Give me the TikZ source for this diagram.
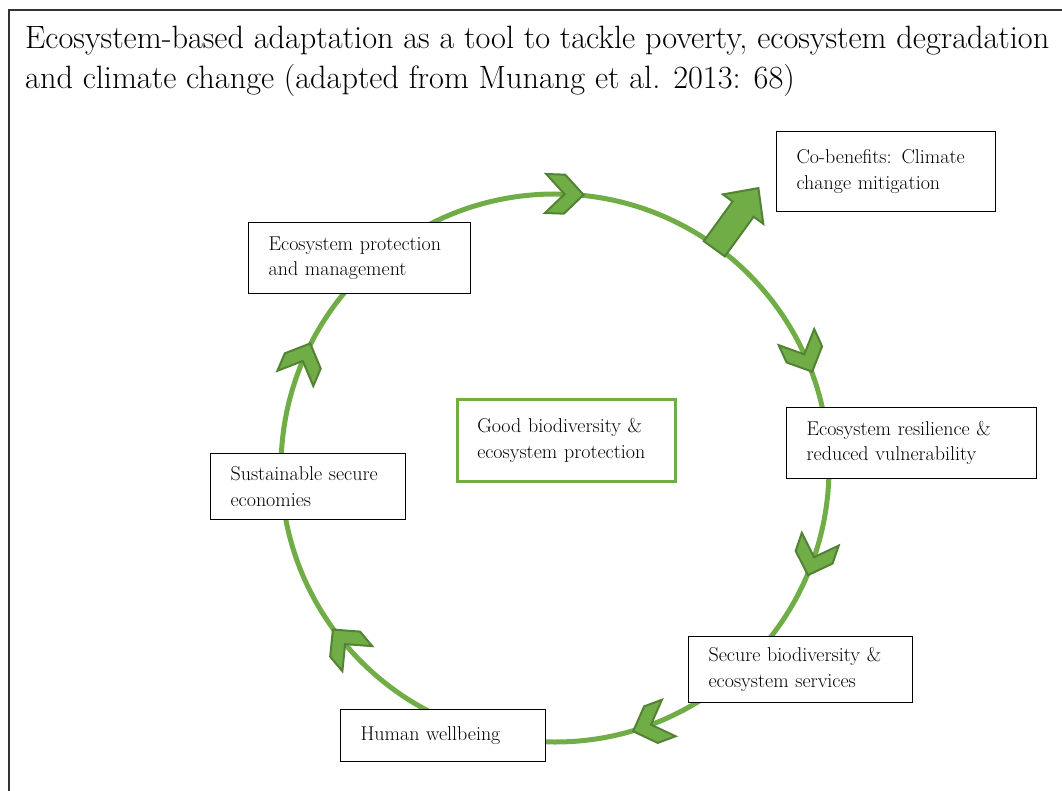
\documentclass[tikz,border=0pt]{standalone}
\usetikzlibrary{calc}
\definecolor{eggreen}{HTML}{70AD47}
\definecolor{egdark}{HTML}{548235}
\begin{document}
\begin{tikzpicture}[x=1pt,y=1pt,
  box/.style={draw=black, line width=1.2pt, fill=white, anchor=north west, align=left,
    inner xsep=20pt, inner ysep=0pt, font=\fontsize{20}{25.5}\selectfont},
  chev/.style={fill=eggreen, draw=egdark, line width=2pt, line join=miter},
  ring/.style={draw=eggreen, line width=5pt}]
\useasboundingbox (0,0) rectangle (1062,-791);
\draw[line width=1.5pt, black!80] (9,-791) -- (9,-10) -- (1062,-10);
\node[anchor=north west, align=left, font=\fontsize{32.3}{40}\selectfont, inner sep=0pt] (title) at (25,-26)
  {Ecosystem-based adaptation as a tool to tackle poverty, ecosystem degradation\\
   and climate change (adapted from Munang et al. 2013: 68)};
\coordinate (c) at (555,-468);
\draw[ring] (c) circle (274);
% chevrons (clockwise)
\foreach \a in {88,24.5,-19,-69.5,220,157}{
  \begin{scope}[shift={(c)},rotate=\a,shift={(274,0)},rotate=-90]
    \draw[chev] (-19,19.5) -- (0,19.5) -- (19,0) -- (0,-19.5) -- (-19,-19.5) -- (0,0) -- cycle;
  \end{scope}
}
% big outward arrow
\begin{scope}[shift={(c)},rotate=54]
  \draw[chev] (271,13) -- (320,13) -- (320,25) -- (346,0) -- (320,-25) -- (320,-13) -- (271,-13) -- cycle;
\end{scope}
% boxes
\node[box, minimum width=219pt, minimum height=80pt, text width=179pt] (cobenefits) at (776,-131)
  {Co-benefits: Climate\\ change mitigation};
\node[box, minimum width=222pt, minimum height=71pt, text width=182pt] (protection) at (248,-222)
  {Ecosystem protection\\ and management};
\node[box, draw=eggreen, line width=2.5pt, minimum width=218pt, minimum height=82pt, text width=178pt] (good) at (456,-398)
  {Good biodiversity \&\\ ecosystem protection};
\node[box, minimum width=250pt, minimum height=71pt, text width=210pt] (resilience) at (786,-407)
  {Ecosystem resilience \&\\ reduced vulnerability};
\node[box, minimum width=195pt, minimum height=66pt, text width=155pt] (economies) at (210,-453)
  {Sustainable secure\\ economies};
\node[box, minimum width=224pt, minimum height=66pt, text width=184pt] (services) at (688,-636)
  {Secure biodiversity \&\\ ecosystem services};
\node[box, minimum width=205pt, minimum height=52pt, text width=165pt] (wellbeing) at (340,-709)
  {Human wellbeing};
\end{tikzpicture}
\end{document}
